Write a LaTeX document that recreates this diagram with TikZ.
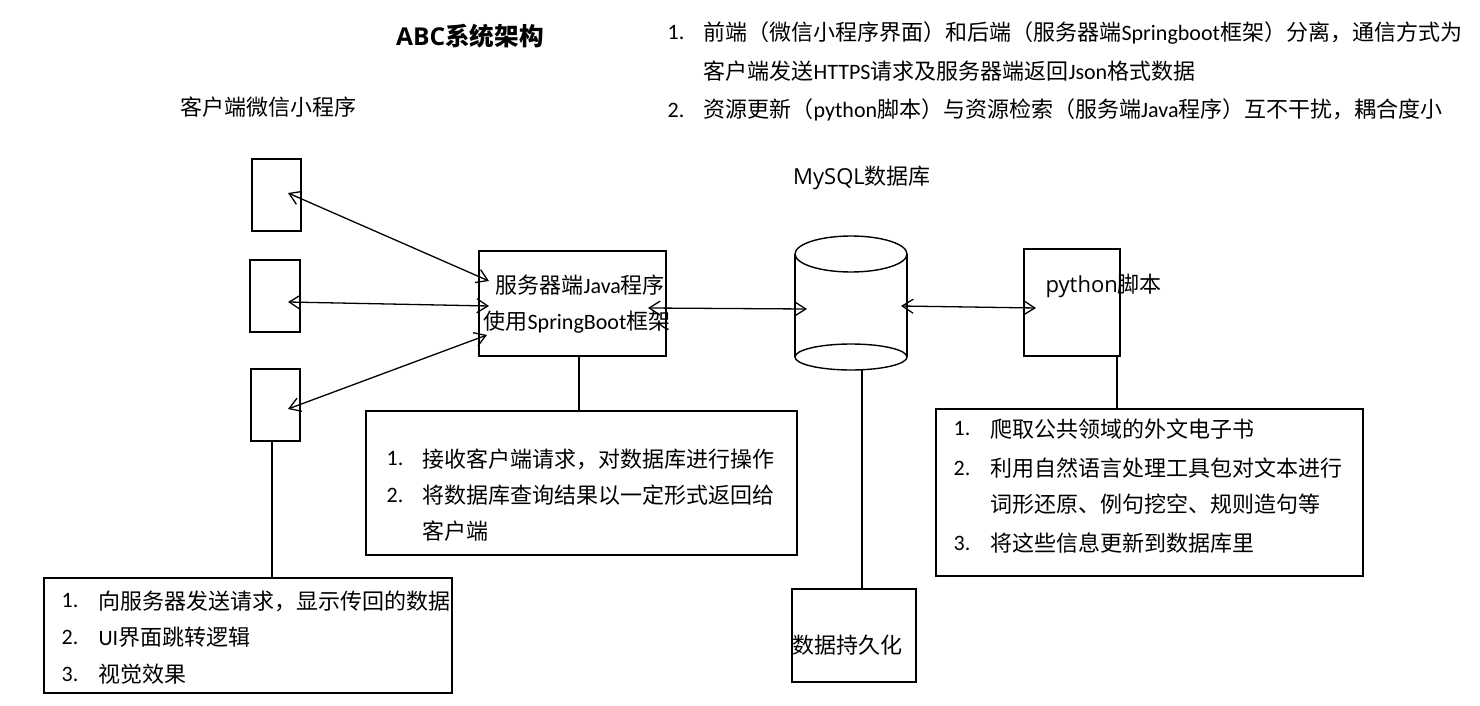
\documentclass[tikz,border=0pt]{standalone}
\usepackage{fontspec}
\setmainfont{Noto Sans CJK SC}
\newfontfamily\lat{Carlito}
\newfontfamily\osans{Open Sans}
\usetikzlibrary{arrows.meta}
\begin{document}
\begin{tikzpicture}[x=0.5pt,y=-0.5pt,line width=0.6pt,
  bx/.style 2 args={draw,line width=0.7pt,inner sep=0pt,minimum width=#1*0.5pt,minimum height=#2*0.5pt},
  txt/.style={anchor=west,inner sep=0pt,font=\fontsize{11}{13}\selectfont},
  ctxt/.style={inner sep=0pt,font=\fontsize{11}{13}\selectfont},
  link/.style={line width=0.65pt,{Straight Barb[length=5.5pt,width=7pt]}-{Straight Barb[length=5.5pt,width=7pt]}}
]
\useasboundingbox (0,0) rectangle (1480,706);
% titles
\node[ctxt,font=\fontsize{12.3}{14}\selectfont\bfseries] (title) at (470,36) {{\osans\bfseries ABC}系统架构};
\node[ctxt] (client) at (268,107) {客户端微信小程序};
\node[ctxt] (mysql) at (862,178) {{\osans MySQL}数据库};
% top notes
\node[txt] (tn1) at (667,33) {\lat 1.};
\node[txt] (tt1) at (703,33) {前端（微信小程序界面）和后端（服务器端{\lat Springboot}框架）分离，通信方式为};
\node[txt] (tt1b) at (703,71) {客户端发送{\lat HTTPS}请求及服务器端返回{\lat Json}格式数据};
\node[txt] (tn2) at (667,110) {\lat 2.};
\node[txt] (tt2) at (703,110) {资源更新（{\lat python}脚本）与资源检索（服务端{\lat Java}程序）互不干扰，耦合度小};
% client boxes
\node[bx={49}{72}] (c1) at (276.5,195) {};
\node[bx={50}{72}] (c2) at (275,296) {};
\node[bx={49}{72}] (c3) at (275.5,405) {};
% server
\node[bx={187}{105}] (srv) at (572.5,303.5) {};
\node[txt] (srvt1) at (495,285) {服务器端{\lat Java}程序};
\node[txt] (srvt2) at (483,322) {使用{\lat SpringBoot}框架};
% database cylinder
\draw[line width=0.7pt] (851,254) ellipse [x radius=56,y radius=18];
\draw[line width=0.7pt] (795,254) -- (795,357) (907,254) -- (907,357);
\draw[line width=0.7pt] (851,357) ellipse [x radius=56,y radius=13];
\coordinate (dbbot) at (862,370);
% python
\node[bx={96}{107}] (py) at (1072,302.5) {};
\node[txt] (pyt) at (1045,286) {{\osans python}脚本};
% arrow end points
\coordinate (c1p) at (288,193);
\coordinate (c2p) at (288,302);
\coordinate (c3p) at (288,409);
\coordinate (s1p) at (489,281);
\coordinate (s2p) at (489,306);
\coordinate (s3p) at (487,335);
\coordinate (srvr) at (648,308);
\coordinate (dbl) at (807,309);
\coordinate (dbr) at (901,306);
\coordinate (pyl) at (1036,308);
\draw[link] (c1p) -- (s1p);
\draw[link] (c2p) -- (s2p);
\draw[link] (c3p) -- (s3p);
\draw[link] (srvr) -- (dbl);
\draw[link] (dbr) -- (pyl);
% server list
\node[bx={431}{144}] (sl) at (581.5,483) {};
\node[txt] (sn1) at (386,459) {\lat 1.};
\node[txt] (st1) at (422,459) {接收客户端请求，对数据库进行操作};
\node[txt] (sn2) at (386,495) {\lat 2.};
\node[txt] (st2) at (422,495) {将数据库查询结果以一定形式返回给};
\node[txt] (st2b) at (422,531) {客户端};
\coordinate (srvb) at (579,356);
\coordinate (slt) at (579,411);
\draw (srvb) -- (slt);
% python list
\node[bx={427}{167}] (pl) at (1149.5,492.5) {};
\node[txt] (pn1) at (953,429) {\lat 1.};
\node[txt] (pt1) at (990,429) {爬取公共领域的外文电子书};
\node[txt] (pn2) at (953,468) {\lat 2.};
\node[txt] (pt2) at (990,468) {利用自然语言处理工具包对文本进行};
\node[txt] (pt2b) at (990,504) {词形还原、例句挖空、规则造句等};
\node[txt] (pn3) at (953,543) {\lat 3.};
\node[txt] (pt3) at (990,543) {将这些信息更新到数据库里};
\coordinate (pyb) at (1117,356);
\coordinate (plt) at (1117,409);
\draw (pyb) -- (plt);
% persistence
\node[bx={124}{93}] (per) at (854,635.5) {};
\node[txt] (pert) at (792,645) {数据持久化};
\coordinate (pertop) at (862,589);
\draw (dbbot) -- (pertop);
% client list
\node[bx={408}{115}] (cl) at (248,635.5) {};
\node[txt] (cn1) at (61,601) {\lat 1.};
\node[txt] (ct1) at (98,601) {向服务器发送请求，显示传回的数据};
\node[txt] (cn2) at (61,637) {\lat 2.};
\node[txt] (ct2) at (98,637) {{\lat UI}界面跳转逻辑};
\node[txt] (cn3) at (61,674) {\lat 3.};
\node[txt] (ct3) at (98,674) {视觉效果};
\coordinate (c3b) at (272,441);
\coordinate (clt) at (272,578);
\draw (c3b) -- (clt);
\end{tikzpicture}
\end{document}
